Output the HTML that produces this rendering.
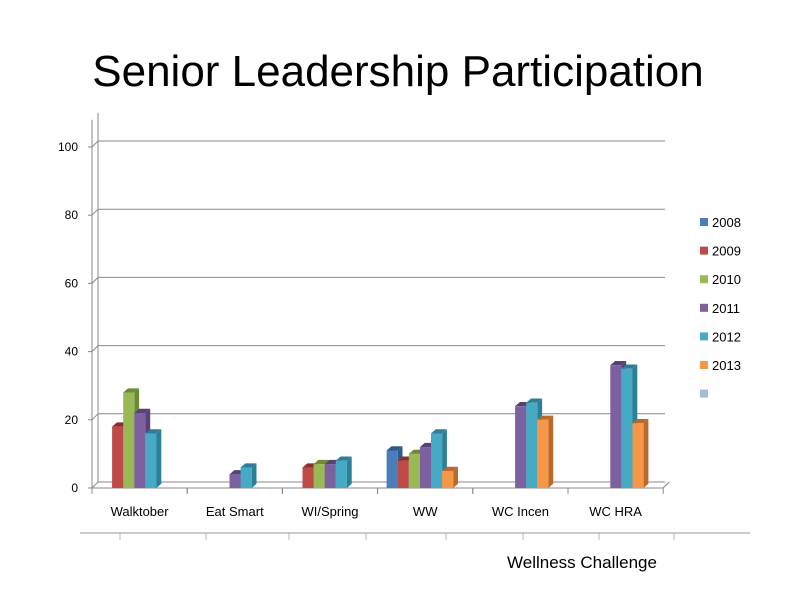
<!DOCTYPE html>
<html><head><meta charset="utf-8"><style>
body{margin:0;background:#fff;}
svg{display:block;font-family:"Liberation Sans",sans-serif;}
</style></head><body>
<svg id="chart" width="800" height="600">
<text x="398" y="86" text-anchor="middle" font-size="44" fill="#000">Senior Leadership Participation</text>
<g id="grid"></g><g id="bars"></g><g id="legend"></g>
<line x1="80" y1="533" x2="750" y2="533" stroke="#999"/>
<text x="507" y="568" font-size="17" fill="#000">Wellness Challenge</text>
</svg>
<script>
const categories=["Walktober","Eat Smart","WI/Spring","WW","WC Incen","WC HRA"];
const series=["2008","2009","2010","2011","2012","2013"];
const s2008=[0,0,0,11,0,0];
const s2009=[18,0,6,8,0,0];
const s2010=[28,0,7,10,0,0];
const s2011=[22,4,7,12,24,36];
const s2012=[16,6,8,16,25,35];
const s2013=[0,0,0,5,20,19];
const yTicks=[0,20,40,60,80,100];
const colors=["#4a7ebb","#be4b48","#98b954","#7d60a0","#46aac5","#f79646","#a5b9dc"];
const dark=["#2f5a8c","#8a2f2d","#6c8a35","#574175","#2d7f95","#b86a2a"];
const ns="http://www.w3.org/2000/svg";
function mk(t,a,p){const e=document.createElementNS(ns,t);for(const k in a)e.setAttribute(k,a[k]);p.appendChild(e);return e;}
const y0=488,ppu=3.41,xL=92,catW=95.2,dx=6,dy=-6;
function yS(v){return y0-v*ppu;}
function xC(i){return xL+i*catW;}
const grid=document.getElementById('grid');
yTicks.forEach(t=>{
 const y=yS(t);
 const g=mk('line',{x1:xL+dx,y1:y+dy,x2:665,y2:y+dy,stroke:'#888','stroke-width':1},grid);
 
 const d=mk('line',{x1:xL,y1:y,x2:xL+dx,y2:y+dy,stroke:'#888'},grid);
 
 const tk=mk('line',{x1:xL-4,y1:y,x2:xL,y2:y,stroke:'#888'},grid);
 
 const l=mk('text',{x:xL-14,y:y+4,'text-anchor':'end','font-size':12,fill:'#000'},grid);
 l.textContent=t;
});
const ax=mk('line',{x1:xL,y1:yS(0)-dy*0+0,x2:xL,y2:yS(108),stroke:'#888'},grid);

const ax2=mk('line',{x1:xL+dx,y1:yS(0)+dy,x2:xL+dx,y2:yS(110),stroke:'#888'},grid);

const fx=mk('line',{x1:xL,y1:yS(0),x2:xC(6),y2:yS(0),stroke:'#888'},grid);

mk('line',{x1:xC(6),y1:yS(0),x2:xC(6)+dx,y2:yS(0)+dy,stroke:'#888'},grid);
categories.forEach((c,i)=>{
 for(const k of [i,i+1]){const t=mk('line',{x1:xC(k),y1:y0,x2:xC(k),y2:y0+6,stroke:'#888'},grid);}
 const l=mk('text',{x:xC(i)+catW/2,y:516,'text-anchor':'middle','font-size':13,fill:'#000'},grid);
 l.textContent=c;
});
[120,206,289,366,446,523,599,674].forEach(x=>{const t=mk('line',{x1:x,y1:533,x2:x,y2:540,stroke:'#bbb'},grid);});
const bars=document.getElementById('bars');
const all=[s2008,s2009,s2010,s2011,s2012,s2013];
const bw=11.1;
categories.forEach((c,i)=>{
 all.forEach((arr,s)=>{
  const v=arr[i]; if(!v) return;
  const x=xC(i)+9+s*bw, yt=yS(v);
  const g=mk('g',{},bars);
  
  
  mk('polygon',{points:`${x+bw},${y0} ${x+bw+dx*0.8},${y0+dy*0.7} ${x+bw+dx*0.8},${yt+dy*0.7} ${x+bw},${yt}`,fill:dark[s]},g);
  mk('polygon',{points:`${x},${yt} ${x+dx*0.8},${yt+dy*0.7} ${x+bw+dx*0.8},${yt+dy*0.7} ${x+bw},${yt}`,fill:dark[s]},g);
  mk('rect',{x:x,y:yt,width:bw,height:y0-yt,fill:colors[s]},g);
 });
});
const lg=document.getElementById('legend');
series.concat([""]).forEach((s,i)=>{
 const y=222+i*28.6;
 const g=mk('g',{},lg);
 
 mk('rect',{x:700,y:y-4,width:8,height:8,fill:colors[i]},g);
 if(s){const t=mk('text',{x:712,y:y+5,'font-size':13,fill:'#000'},g);t.textContent=s;}
});
</script>
</body></html>
